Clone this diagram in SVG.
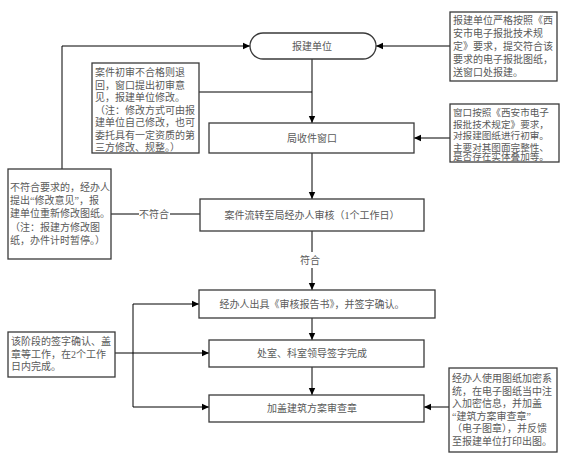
<svg xmlns="http://www.w3.org/2000/svg" width="567" height="456" viewBox="0 0 567 456">
<style>
text{font-family:"Liberation Serif","Noto Sans CJK SC",serif;font-size:10px;fill:#5a5a5a}
.c{text-anchor:middle}
.s{font-size:9.6px}
.box{fill:#fff;stroke:#3a3a3a;stroke-width:1.3}
.ln{fill:none;stroke:#000;stroke-width:1}
</style>
<defs>
<marker id="ar" markerWidth="8" markerHeight="8" refX="7" refY="4" orient="auto" markerUnits="userSpaceOnUse">
<path d="M0,0.8 L7,4 L0,7.2 Z" fill="#000"/>
</marker>
</defs>
<rect width="567" height="456" fill="#fff"/>
<g id="connectors">
<line class="ln" x1="312" y1="59" x2="312" y2="123" marker-end="url(#ar)"/>
<line class="ln" x1="450" y1="46" x2="376" y2="46" marker-end="url(#ar)"/>
<line class="ln" x1="450" y1="138" x2="414" y2="138" marker-end="url(#ar)"/>
<line class="ln" x1="199" y1="92" x2="312" y2="92"/>
<line class="ln" x1="312" y1="153" x2="312" y2="199" marker-end="url(#ar)"/>
<line class="ln" x1="200" y1="214" x2="170" y2="214"/>
<line class="ln" x1="139" y1="214" x2="111" y2="214"/>
<polyline class="ln" points="62,169 62,46 250,46" marker-end="url(#ar)"/>
<line class="ln" x1="312" y1="231" x2="312" y2="252"/>
<line class="ln" x1="312" y1="268" x2="312" y2="290" marker-end="url(#ar)"/>
<line class="ln" x1="312" y1="318" x2="312" y2="340" marker-end="url(#ar)"/>
<line class="ln" x1="312" y1="367" x2="312" y2="395" marker-end="url(#ar)"/>
<line class="ln" x1="115" y1="353" x2="209" y2="353" marker-end="url(#ar)"/>
<line class="ln" x1="133" y1="304" x2="199" y2="304" marker-end="url(#ar)"/>
<polyline class="ln" points="133,304 133,407 209,407" marker-end="url(#ar)"/>
<line class="ln" x1="449" y1="407" x2="424" y2="407" marker-end="url(#ar)"/>
<text class="c" x="154" y="218">不符合</text>
<text class="c" x="310" y="264">符合</text>
</g>
<g id="n-baojian">
<rect class="box" x="250" y="33" width="126" height="26" rx="13"/>
<text class="c" x="312" y="50">报建单位</text>
</g>
<g id="n-note1">
<rect class="box" x="450" y="12" width="107" height="69"/>
<text x="453" y="24">报建单位严格按照《西</text>
<text x="453" y="37">安市电子报批技术规</text>
<text x="453" y="50">定》要求，提交符合该</text>
<text x="453" y="63">要求的电子报批图纸，</text>
<text x="453" y="76">送窗口处报建。</text>
</g>
<g id="n-note-return">
<rect class="box" x="92" y="63" width="107" height="90"/>
<text x="95" y="76">案件初审不合格则退</text>
<text x="95" y="88.5">回，窗口提出初审意</text>
<text x="95" y="101">见，报建单位修改。</text>
<text x="95" y="113.5">（注：修改方式可由报</text>
<text x="95" y="126">建单位自己修改，也可</text>
<text x="95" y="138.5">委托具有一定资质的第</text>
<text x="95" y="151">三方修改、规整。）</text>
</g>
<g id="n-window">
<rect class="box" x="209" y="123" width="205" height="30"/>
<text class="c" x="312" y="142">局收件窗口</text>
</g>
<g id="n-note2">
<rect class="box" x="450" y="104" width="109" height="58"/>
<text class="s" x="453" y="116">窗口按照《西安市电子</text>
<text class="s" x="453" y="127.5">报批技术规定》要求，</text>
<text class="s" x="453" y="139">对报建图纸进行初审。</text>
<text class="s" x="453" y="150.5">主要对其图面完整性、</text>
<text class="s" x="453" y="160">是否存在实体叠加等。</text>
</g>
<g id="n-reject">
<rect class="box" x="8" y="169" width="103" height="90"/>
<text x="10" y="191">不符合要求的，经办人</text>
<text x="10" y="204">提出“修改意见”，报</text>
<text x="10" y="217">建单位重新修改图纸。</text>
<text x="10" y="231">（注：报建方修改图</text>
<text x="10" y="244">纸，办件计时暂停。）</text>
</g>
<g id="n-review">
<rect class="box" x="200" y="199" width="224" height="32"/>
<text class="c" x="312" y="219">案件流转至局经办人审核（1个工作日）</text>
</g>
<g id="n-report">
<rect class="box" x="199" y="290" width="236" height="28"/>
<text class="c" x="312" y="308">经办人出具《审核报告书》，并签字确认。</text>
</g>
<g id="n-note3">
<rect class="box" x="8" y="332" width="107" height="45"/>
<text x="11" y="345">该阶段的签字确认、盖</text>
<text x="11" y="357.5">章等工作，在2个工作</text>
<text x="11" y="370">日内完成。</text>
</g>
<g id="n-sign">
<rect class="box" x="209" y="340" width="215" height="27"/>
<text class="c" x="312" y="357">处室、科室领导签字完成</text>
</g>
<g id="n-stamp">
<rect class="box" x="209" y="395" width="215" height="27"/>
<text class="c" x="312" y="412">加盖建筑方案审查章</text>
</g>
<g id="n-note4">
<rect class="box" x="449" y="368" width="108" height="84"/>
<text x="452" y="382">经办人使用图纸加密系</text>
<text x="452" y="394.5">统，在电子图纸当中注</text>
<text x="452" y="407">入加密信息，并加盖</text>
<text x="452" y="419.5">“建筑方案审查章”</text>
<text x="452" y="432">（电子图章），并反馈</text>
<text x="452" y="444.5">至报建单位打印出图。</text>
</g>
</svg>
